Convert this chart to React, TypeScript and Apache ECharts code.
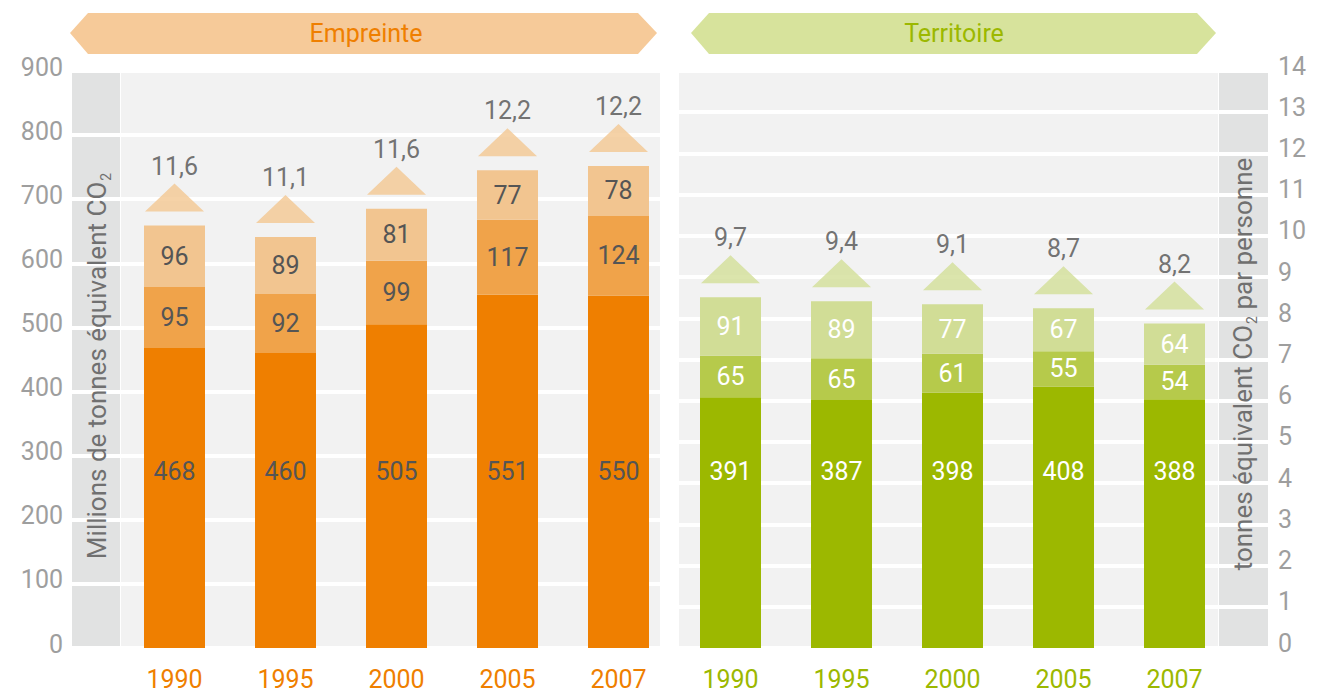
import React, { useEffect, useRef } from "react";
import * as echarts from "echarts";

const years = ["1990", "1995", "2000", "2005", "2007"];

const empBase = [468, 460, 505, 551, 550];
const empMid = [95, 92, 99, 117, 124];
const empTop = [96, 89, 81, 77, 78];
const empPerson = [11.6, 11.1, 11.6, 12.2, 12.2];

const terBase = [391, 387, 398, 408, 388];
const terMid = [65, 65, 61, 55, 54];
const terTop = [91, 89, 77, 67, 64];
const terPerson = [9.7, 9.4, 9.1, 8.7, 8.2];

const leftTicks = { min: 0, max: 900, interval: 100 };
const rightTicks = { min: 0, max: 14, interval: 1 };

const FONT = "Roboto";
const TOP = 71;
const H = 577;

export default function App() {
  const ref = useRef<HTMLDivElement>(null);
  useEffect(() => {
    document.body.style.margin = "0";
    const chart = echarts.init(ref.current!, null, { renderer: "svg" });
    const fmt = (v: number) => v.toFixed(1).replace(".", ",");
    const empTotal = empBase.map((v, i) => v + empMid[i] + empTop[i]);
    const terTotal = terBase.map((v, i) => v + terMid[i] + terTop[i]);

    const bgGrid = (left: number, width: number, color: string) => ({
      left,
      width,
      top: TOP,
      height: H,
      show: true,
      backgroundColor: color,
      borderWidth: 0,
    });

    const splitLine = { show: true, lineStyle: { color: "#ffffff", width: 4 } };

    const barLabel = (color: string) => ({
      show: true,
      position: "inside" as const,
      color,
      fontSize: 25,
      fontFamily: FONT,
    });

    const mkBars = (
      idx: number,
      base: number[],
      mid: number[],
      top: number[],
      colors: string[],
      labelColor: string,
      stack: string
    ) => [
      {
        type: "bar",
        xAxisIndex: idx,
        yAxisIndex: idx,
        stack,
        data: base,
        barWidth: 61,
        itemStyle: { color: colors[0] },
        label: {
          ...barLabel(labelColor),
          position: "insideBottom",
          distance: 164,
        },
      },
      {
        type: "bar",
        xAxisIndex: idx,
        yAxisIndex: idx,
        stack,
        data: mid,
        barWidth: 61,
        itemStyle: { color: colors[1] },
        label: barLabel(labelColor),
      },
      {
        type: "bar",
        xAxisIndex: idx,
        yAxisIndex: idx,
        stack,
        data: top,
        barWidth: 61,
        itemStyle: { color: colors[2] },
        label: barLabel(labelColor),
      },
    ];

    const mkTri = (idx: number, totals: number[], person: number[], color: string) => ({
      type: "scatter",
      xAxisIndex: idx,
      yAxisIndex: idx,
      data: totals,
      symbol: "triangle",
      symbolSize: [59, 28],
      symbolOffset: [0, -28],
      itemStyle: { color },
      z: 5,
      label: {
        show: true,
        position: "top",
        distance: 5,
        color: "#505050",
        fontSize: 25,
        fontFamily: FONT,
        formatter: (p: any) => fmt(person[p.dataIndex]),
      },
    });

    const hiddenX = (gridIndex: number) => ({
      gridIndex,
      type: "value",
      show: false,
    });

    const catX = (gridIndex: number, color: string) => ({
      gridIndex,
      type: "category",
      data: years,
      axisLine: { show: false },
      axisTick: { show: false },
      axisLabel: { color, fontSize: 25, fontFamily: FONT, margin: 19 },
    });

    const titleRich = {
      a: { fontSize: 26, fontFamily: FONT, fill: "#707070", lineHeight: 32 },
      b: {
        fontSize: 14,
        fontFamily: FONT,
        fill: "#707070",
        verticalAlign: "bottom",
        lineHeight: 32,
        padding: [0, 0, 0, 1],
      },
    };

    const option: any = {
      animation: false,
      textStyle: { fontFamily: FONT },
      grid: [
        bgGrid(72, 48, "#e1e2e2"),
        bgGrid(121, 539, "#f2f2f2"),
        bgGrid(679, 539, "#f2f2f2"),
        bgGrid(1219, 49, "#e1e2e2"),
        { left: 119, width: 555, top: TOP, height: H },
        { left: 675, width: 555, top: TOP, height: H },
      ],
      xAxis: [
        hiddenX(0),
        hiddenX(1),
        hiddenX(2),
        hiddenX(3),
        catX(4, "#ef7f00"),
        catX(5, "#9cb800"),
      ],
      yAxis: [
        {
          gridIndex: 0,
          type: "value",
          ...leftTicks,
          position: "left",
          axisLine: { show: false },
          axisTick: { show: false },
          splitLine,
          axisLabel: {
            color: "#9e9e9e",
            fontSize: 25,
            fontFamily: FONT,
            margin: 9,
            verticalAlign: "bottom",
            lineHeight: 8,
          },
        },
        {
          gridIndex: 1,
          type: "value",
          ...leftTicks,
          axisLine: { show: false },
          axisTick: { show: false },
          axisLabel: { show: false },
          splitLine,
        },
        {
          gridIndex: 2,
          type: "value",
          ...rightTicks,
          axisLine: { show: false },
          axisTick: { show: false },
          axisLabel: { show: false },
          splitLine,
        },
        {
          gridIndex: 3,
          type: "value",
          ...rightTicks,
          position: "right",
          axisLine: { show: false },
          axisTick: { show: false },
          splitLine,
          axisLabel: {
            color: "#9e9e9e",
            fontSize: 25,
            fontFamily: FONT,
            margin: 10,
            verticalAlign: "bottom",
            lineHeight: 10,
          },
        },
        { gridIndex: 4, type: "value", ...leftTicks, show: false, splitLine: { show: false } },
        { gridIndex: 5, type: "value", ...leftTicks, show: false, splitLine: { show: false } },
      ],
      series: [
        ...mkBars(4, empBase, empMid, empTop, ["#ef7f00", "#f0a34a", "#f2c590"], "#555555", "emp"),
        ...mkBars(5, terBase, terMid, terTop, ["#9cb800", "#b6ca4b", "#d1dd96"], "#ffffff", "ter"),
        mkTri(4, empTotal, empPerson, "#f3c791"),
        mkTri(5, terTotal, terPerson, "#d2de97"),
      ],
      graphic: [
        {
          type: "polygon",
          shape: {
            points: [
              [70, 33],
              [88, 13],
              [638, 13],
              [657, 33],
              [638, 54],
              [88, 54],
            ],
          },
          style: { fill: "#f6ca99" },
        },
        {
          type: "text",
          x: 366,
          y: 33,
          style: {
            text: "Empreinte",
            fill: "#ef7f00",
            fontSize: 25,
            fontFamily: FONT,
            align: "center",
            verticalAlign: "middle",
          },
        },
        {
          type: "polygon",
          shape: {
            points: [
              [691, 33],
              [709, 13],
              [1197, 13],
              [1216, 33],
              [1197, 54],
              [709, 54],
            ],
          },
          style: { fill: "#d7e39c" },
        },
        {
          type: "text",
          x: 954,
          y: 33,
          style: {
            text: "Territoire",
            fill: "#9cb800",
            fontSize: 25,
            fontFamily: FONT,
            align: "center",
            verticalAlign: "middle",
          },
        },
        {
          type: "text",
          x: 97,
          y: 366,
          rotation: Math.PI / 2,
          z: 10,
          style: {
            text: "{a|Millions de tonnes équivalent CO}{b|2}",
            align: "center",
            verticalAlign: "middle",
            rich: titleRich,
          },
        },
        {
          type: "text",
          x: 1243,
          y: 364,
          rotation: Math.PI / 2,
          z: 10,
          style: {
            text: "{a|tonnes équivalent CO}{b|2}{a| par personne}",
            align: "center",
            verticalAlign: "middle",
            rich: titleRich,
          },
        },
      ],
    };
    chart.setOption(option);
    return () => chart.dispose();
  }, []);
  return <div ref={ref} style={{ width: 1322, height: 693 }} />;
}
